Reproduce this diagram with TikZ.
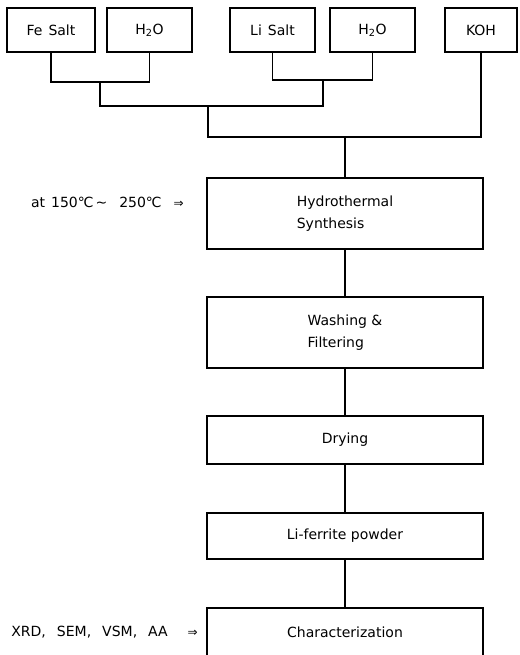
\documentclass[tikz,border=0pt]{standalone}
\usepackage{fontspec}
\setmainfont{DejaVu Sans}
\usepackage{tikz}
\usetikzlibrary{positioning}
\newcommand{\gap}{\hspace{11pt}}
\newcommand{\thento}{{\fontsize{12}{12}\selectfont ⇒}}
\tikzset{
    source/.style={rectangle, draw=black, line width=1.2pt, align=center, inner sep=0pt, outer sep=0pt, minimum height=44pt, font=\fontsize{14}{16}\selectfont},
    stage/.style={rectangle, draw=black, line width=1.2pt, align=center, inner sep=0pt, outer sep=0pt, minimum width=276pt, font=\fontsize{14}{22}\selectfont},
    link/.style={line width=1.2pt},
    side/.style={inner sep=0pt, anchor=east, font=\fontsize{14}{16}\selectfont}
}

\begin{document}
\begin{tikzpicture}[x=1pt, y=-1pt]
    \useasboundingbox (0,0) rectangle (519,655);

    % Row 1: raw materials
    \node[source, minimum width=88pt] (fe) at (51,30) {Fe\hspace{6pt}Salt};
    \node[source, minimum width=85pt] (waterfe) at (149.5,30) {H\textsubscript{2}O};
    \node[source, minimum width=85pt] (li) at (272.5,30) {Li\hspace{6pt}Salt};
    \node[source, minimum width=85pt] (waterli) at (372.5,30) {H\textsubscript{2}O};
    \node[source, minimum width=72pt] (koh) at (481,30) {KOH};

    % Mixing joints
    \coordinate (mixfe) at (100,82);
    \coordinate (mixli) at (323,80);
    \coordinate (mixsalt) at (208,106);
    \coordinate (mixall) at (345,137);

    % Process column
    \node[stage, minimum height=71pt, align=left] (hydro) at (345,213.5) {Hydrothermal\\Synthesis};
    \node[stage, minimum height=71pt, align=left] (wash) at (345,332.5) {Washing \&\\Filtering};
    \node[stage, minimum height=48pt] (dry) at (345,440) {Drying};
    \node[stage, minimum height=46pt] (powder) at (345,536) {Li-ferrite powder};
    \node[stage, minimum height=48pt] (charac) at (345,632) {Characterization};

    % Side notes
    \node[side] (temp) at (184,202) {at\hspace{6pt}150℃\hspace{2pt}\textasciitilde\hspace{12pt}250℃\hspace{12pt}\thento};
    \node[side] (tools) at (198,632) {XRD,\gap SEM,\gap VSM,\gap AA\hspace{20pt}\thento};

    % Tree of connectors
    \draw[link] (fe.south) |- (mixfe) -| (waterfe.south);
    \draw[link] (li.south) |- (mixli) -| (waterli.south);
    \draw[link] (mixfe) |- (mixsalt) -| (mixli);
    \draw[link] (mixsalt) |- (mixall) -| (koh.south);
    \draw[link] (mixall) -- (hydro.north);

    % Main flow
    \draw[link] (hydro) -- (wash);
    \draw[link] (wash) -- (dry);
    \draw[link] (dry) -- (powder);
    \draw[link] (powder) -- (charac);

\end{tikzpicture}
\end{document}
